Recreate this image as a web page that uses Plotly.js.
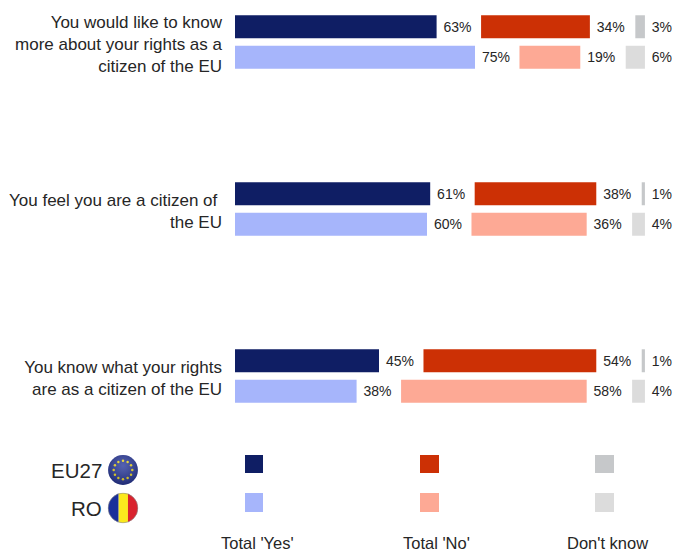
<!DOCTYPE html>
<html><head><meta charset="utf-8">
<script src="https://cdn.plot.ly/plotly-3.0.1.min.js"></script>
<style>html,body{margin:0;padding:0;background:#fff}#c{width:673px;height:551px}</style>
</head><body><div id="c"></div>
<script>
var categories = ["You would like to know<br>more about your rights as a<br>citizen of the EU",
                  "You feel you are a citizen of <br>the EU",
                  "You know what your rights<br>are as a citizen of the EU"];
var eu27Yes = [63, 61, 45], eu27No = [34, 38, 54], eu27Dk = [3, 1, 1];
var roYes = [75, 60, 38], roNo = [19, 36, 58], roDk = [6, 4, 4];
var W = 673, H = 551, FONT = '"Liberation Sans",Arial,sans-serif', INK = '#262626';
var X0 = 235, PXPER = 3.2, GAP = 13.9, DKEND = 128.1;
var COL = {eu:['#0f1e64','#cc3005','#c6c8ca'], ro:['#a6b5fb','#fda995','#dcdcdc']};

function pct(a){return a.map(function(v){return '\u00a0'+v+'%';});}
function bar(name,group,vals,base,color){
  return {type:'bar',orientation:'h',name:name,offsetgroup:group,y:categories,x:vals,base:base,
    marker:{color:color,line:{width:0}},text:pct(vals),textposition:'outside',cliponaxis:false,constraintext:'none',
    textfont:{family:FONT,size:14,color:INK},hoverinfo:'skip',showlegend:false};
}
function series(group,yes,no,dk,c){
  var noBase = yes.map(function(v){return v+GAP;});
  var dkBase = dk.map(function(v){return DKEND-v;});
  return [bar("Total 'Yes'",group,yes,yes.map(function(){return 0;}),c[0]),
          bar("Total 'No'",group,no,noBase,c[1]),
          bar("Don't know",group,dk,dkBase,c[2])];
}
var data = series('EU27',eu27Yes,eu27No,eu27Dk,COL.eu).concat(series('RO',roYes,roNo,roDk,COL.ro));

var PW = W - X0;
function px(x){return (x-X0)/PW;} function py(y){return 1-y/H;}
var shapes=[], annotations=[];
[[245,263],[420,439],[595,614]].forEach(function(r,i){
  shapes.push({type:'rect',xref:'paper',yref:'paper',x0:px(r[0]),x1:px(r[1]),y0:py(455),y1:py(473),fillcolor:COL.eu[i],line:{width:0}});
  shapes.push({type:'rect',xref:'paper',yref:'paper',x0:px(r[0]),x1:px(r[1]),y0:py(493),y1:py(512),fillcolor:COL.ro[i],line:{width:0}});
});
function note(t,x,y,anchor,size){annotations.push({text:t,xref:'paper',yref:'paper',x:px(x),y:py(y),xanchor:anchor,yanchor:'middle',showarrow:false,borderpad:0,
  font:{family:FONT,size:size,color:INK}});}
note("Total 'Yes'",257,543,'center',16.5);
note("Total 'No'",436,543,'center',16.5);
note("Don't know",607,543,'center',16.5);
note("EU27",103,470,'right',20.5);
note("RO",103,508,'right',20.5);

var stars='';
for(var i=0;i<12;i++){var a=i*Math.PI/6;stars+='<circle cx="'+(50+30*Math.cos(a)).toFixed(1)+'" cy="'+(50+30*Math.sin(a)).toFixed(1)+'" r="4" fill="#f2dc1e"/>';}
var defs='<defs><radialGradient id="g" cx="50%" cy="35%" r="65%"><stop offset="0" stop-color="#fff" stop-opacity=".2"/><stop offset="1" stop-color="#000" stop-opacity=".25"/></radialGradient><clipPath id="k"><circle cx="50" cy="50" r="48"/></clipPath></defs>';
var svgHead='<svg xmlns="http://www.w3.org/2000/svg" width="100" height="100" viewBox="0 0 100 100">'+defs;
var euFlag=svgHead+'<circle cx="50" cy="50" r="48" fill="#2a3a9c"/>'+stars+'<circle cx="50" cy="50" r="48" fill="url(#g)"/></svg>';
var roFlag=svgHead+'<g clip-path="url(#k)"><rect x="0" y="0" width="36" height="100" fill="#1a2f9a"/><rect x="36" y="0" width="30" height="100" fill="#fbe91e"/><rect x="66" y="0" width="34" height="100" fill="#d9232e"/></g><circle cx="50" cy="50" r="48" fill="none" stroke="#888" stroke-width="2"/></svg>';
function img(s,cx,cy){return {source:'data:image/svg+xml;utf8,'+encodeURIComponent(s),xref:'paper',yref:'paper',x:px(cx-15.5),y:py(cy-15.5),sizex:31/PW,sizey:31/H,xanchor:'left',yanchor:'top',layer:'above'};}

var CAT0=42, STEP=167;
var layout={width:W,height:H,margin:{l:X0,r:0,t:0,b:0},paper_bgcolor:'#fff',plot_bgcolor:'#fff',showlegend:false,
  barmode:'group',bargap:0.635,bargroupgap:0.246,
  xaxis:{range:[0,PW/PXPER],visible:false,fixedrange:true},
  yaxis:{type:'category',categoryorder:'array',categoryarray:categories,range:[(H-CAT0)/STEP,-CAT0/STEP],autorange:false,
    showgrid:false,zeroline:false,showline:false,ticks:'',ticklen:0,ticklabelstandoff:12,ticklabelshift:-2,
    tickfont:{family:FONT,size:17,color:INK},fixedrange:true},
  shapes:shapes,annotations:annotations,images:[img(euFlag,123,470),img(roFlag,123,508)]};
Plotly.newPlot('c',data,layout,{displayModeBar:false,staticPlot:true});
</script></body></html>
